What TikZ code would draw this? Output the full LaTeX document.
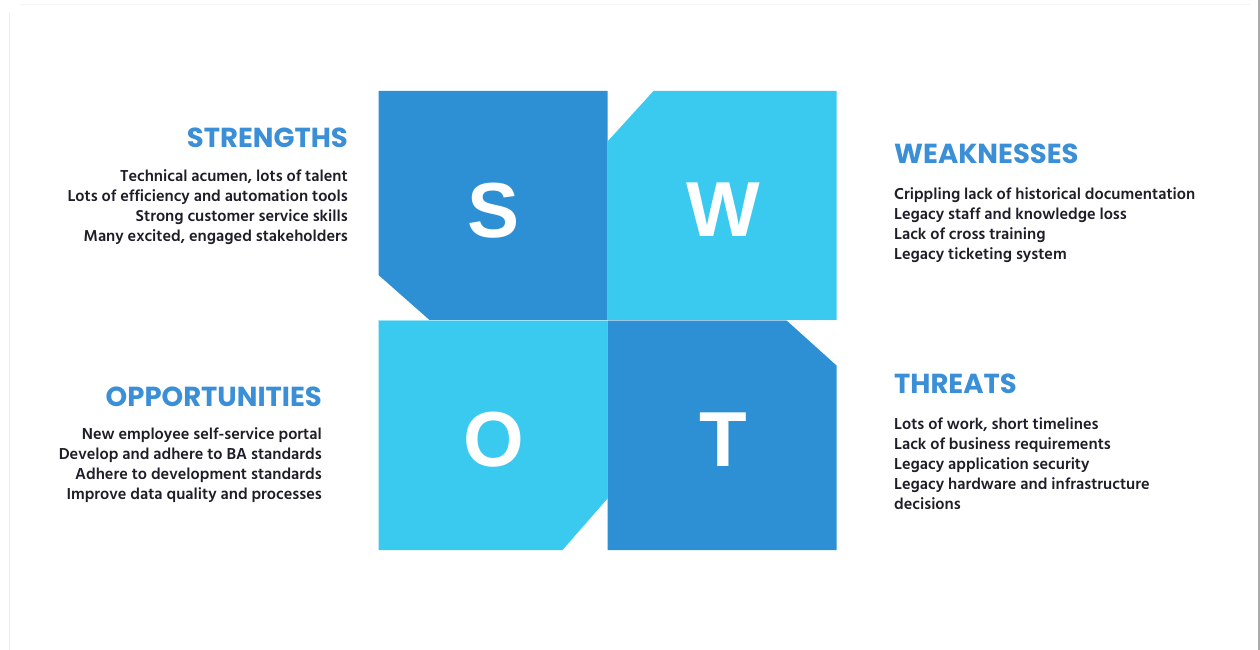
\documentclass[tikz,border=0pt]{standalone}
\usepackage{fontspec}
\setmainfont{Hind Siliguri}
\newfontfamily\letterfont{Liberation Sans}
\newfontfamily\headfont{Poppins}
\definecolor{darkq}{HTML}{2E90D4}
\definecolor{lightq}{HTML}{3AC9EF}
\definecolor{headc}{HTML}{3A8FD6}
\definecolor{bodyc}{HTML}{1E1E28}
\begin{document}
\begin{tikzpicture}[x=1pt,y=-1pt,
  heading/.style={inner sep=0pt,text=headc,font=\headfont\fontsize{27.5}{27.5}\selectfont\bfseries},
  bodyline/.style={inner sep=0pt,text=bodyc,font=\fontsize{16.25}{20}\selectfont\bfseries},
  bigletter/.style={inner sep=0pt,text=white,font=\letterfont\fontsize{78}{78}\selectfont\bfseries}]
\useasboundingbox (0,0) rectangle (1260,650);
\fill[white] (0,0) rectangle (1260,650);
\draw[line width=2pt,color=black!33] (1258.5,0) -- (1258.5,650);
\draw[line width=0.6pt,color=black!6] (9,12) -- (9,650);
\draw[line width=0.6pt,color=black!4] (20,4) -- (1250,4);
% quadrants
\fill[darkq] (378.5,91) -- (607.5,91) -- (607.5,320) -- (429.5,320) -- (378.5,275) -- cycle;
\fill[lightq] (653.5,91) -- (836.5,91) -- (836.5,320) -- (607.5,320) -- (607.5,141.5) -- cycle;
\fill[lightq] (378.5,320) -- (607.5,320) -- (607.5,498.5) -- (562.5,550) -- (378.5,550) -- cycle;
\fill[darkq] (607.5,320) -- (786,320) -- (836.5,365.5) -- (836.5,550) -- (607.5,550) -- cycle;
\draw[white,line width=0.6pt,opacity=0.5] (378.5,320) -- (836.5,320);
\node[bigletter,anchor=base] (S) at (494,237) {S};
\node[bigletter,anchor=base] (W) at (723,236) {W};
\node[bigletter,anchor=base] (O) at (494,466) {O};
\node[bigletter,anchor=base] (T) at (723,466) {T};
% strengths
\node[heading,anchor=base east] (sh) at (348,147) {STRENGTHS};
\node[bodyline,anchor=base east] (s1) at (348,181) {Technical acumen, lots of talent};
\node[bodyline,anchor=base east] (s2) at (348,201) {Lots of efficiency and automation tools};
\node[bodyline,anchor=base east] (s3) at (348,221) {Strong customer service skills};
\node[bodyline,anchor=base east] (s4) at (348,241) {Many excited, engaged stakeholders};
% opportunities
\node[heading,anchor=base east] (oh) at (322,406) {OPPORTUNITIES};
\node[bodyline,anchor=base east] (o1) at (322,439) {New employee self-service portal};
\node[bodyline,anchor=base east] (o2) at (322,459) {Develop and adhere to BA standards};
\node[bodyline,anchor=base east] (o3) at (322,479) {Adhere to development standards};
\node[bodyline,anchor=base east] (o4) at (322,499) {Improve data quality and processes};
% weaknesses
\node[heading,anchor=base west] (wh) at (894,163) {WEAKNESSES};
\node[bodyline,anchor=base west] (w1) at (894,199) {Crippling lack of historical documentation};
\node[bodyline,anchor=base west] (w2) at (894,219) {Legacy staff and knowledge loss};
\node[bodyline,anchor=base west] (w3) at (894,239) {Lack of cross training};
\node[bodyline,anchor=base west] (w4) at (894,259) {Legacy ticketing system};
% threats
\node[heading,anchor=base west] (th) at (894,393) {THREATS};
\node[bodyline,anchor=base west] (t1) at (894,429) {Lots of work, short timelines};
\node[bodyline,anchor=base west] (t2) at (894,449) {Lack of business requirements};
\node[bodyline,anchor=base west] (t3) at (894,469) {Legacy application security};
\node[bodyline,anchor=base west] (t4) at (894,489) {Legacy hardware and infrastructure};
\node[bodyline,anchor=base west] (t5) at (894,509) {decisions};
\end{tikzpicture}
\end{document}
